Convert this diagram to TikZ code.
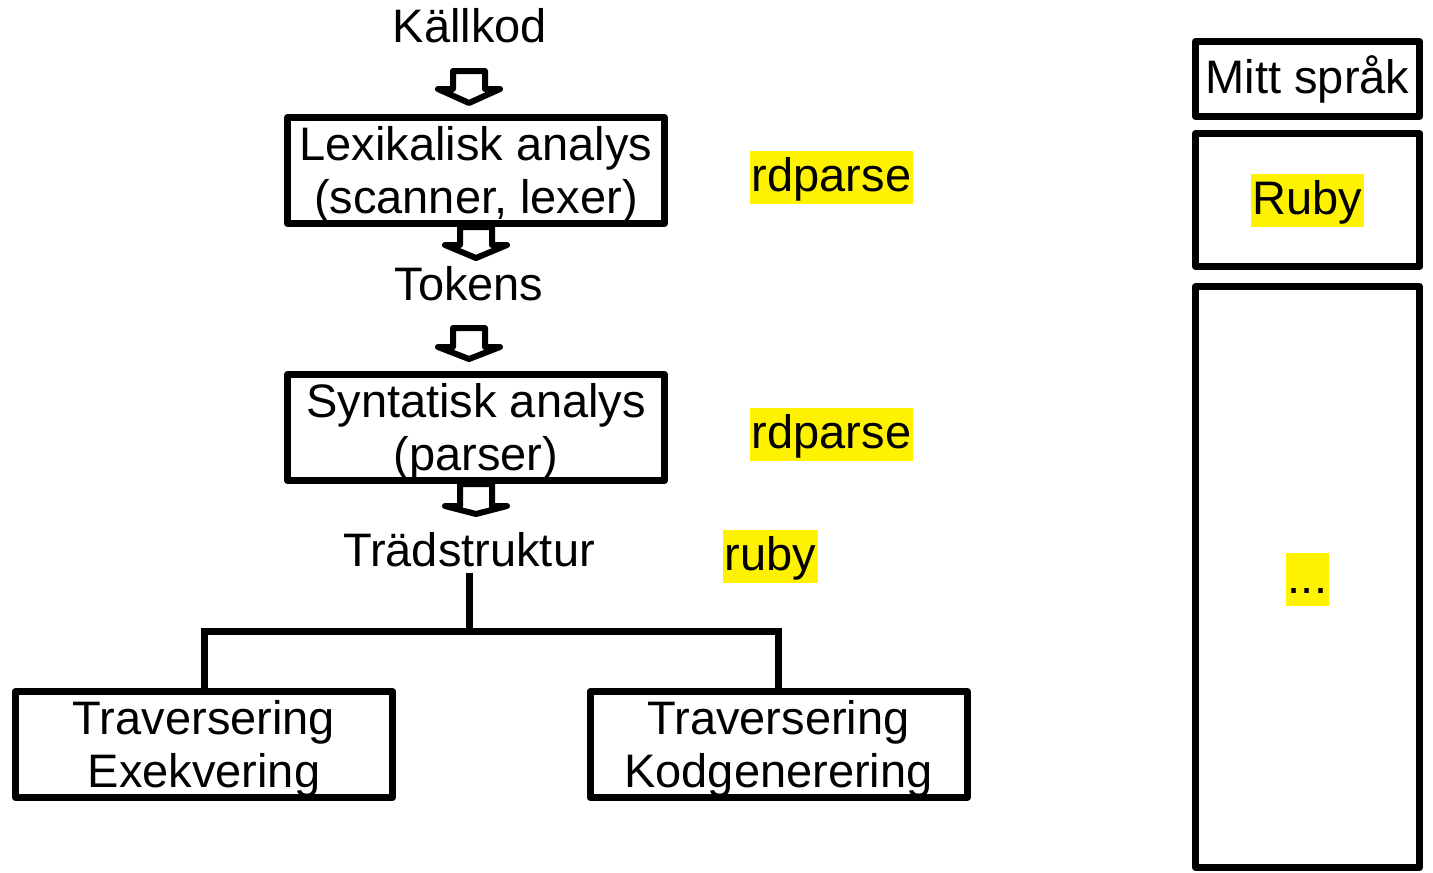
\documentclass[tikz,border=0pt]{standalone}
\usepackage{fontspec}
\setmainfont{Liberation Sans}
\usetikzlibrary{calc,backgrounds}
\newcommand\blockarrow[3]{%
  \draw[blk] ($#1+(-16,0)$) -- ++(32,0) -- ++(0,#2) -- ++(15,0) -- ($#1+(0,#2+#3)$) -- ($#1+(-31,#2)$) -- ++(15,0) -- cycle;}
\newcommand\topstrut{\rule{0pt}{42pt}}
\begin{document}
\begin{tikzpicture}[x=1pt,y=-1pt,
  every node/.style={inner sep=0pt, font=\fontsize{47}{53}\selectfont},
  box/.style={draw, line width=7pt, line join=round, align=center, minimum width=377pt, minimum height=106pt},
  sidebox/.style={draw, line width=7pt, line join=round, minimum width=224pt},
  hl/.style={fill=yellow, inner xsep=2pt, text height=41pt, text depth=12pt},
  blk/.style={draw, line width=6pt, line join=round, fill=white},
  tree/.style={line width=7pt}
]
\useasboundingbox (0,0) rectangle (1433,873);
\node[anchor=base] (src) at (470,42) {Källkod};
\node[box] (lex) at (476,170.5) {\topstrut Lexikalisk analys\\(scanner, lexer)};
\node[anchor=base] (tok) at (469,300) {Tokens};
\node[box] (syn) at (476,427.5) {\topstrut Syntatisk analys\\(parser)};
\node[anchor=base] (trd) at (469,566) {Trädstruktur};
\node[box] (exe) at (204,744.5) {\topstrut Traversering\\Exekvering};
\node[box] (gen) at (778.5,744.5) {\topstrut Traversering\\Kodgenerering};
\node[hl] (rd1) at (831.5,177) {rdparse};
\node[hl] (rd2) at (831.5,434) {rdparse};
\node[hl] (rb) at (770.5,556) {ruby};
\node[sidebox, minimum height=75pt] (lang) at (1307.5,79) {\rule{0pt}{37pt}Mitt språk};
\node[sidebox, minimum height=133pt] (impl) at (1307.5,200) {};
\node[hl] (Rb) at (1307.5,200) {Ruby};
\node[sidebox, minimum height=581pt] (more) at (1307.5,577) {};
\node[hl] (dots) at (1307.5,579) {...};
\coordinate (a1) at (469,71);
\coordinate (a3) at (469,328);
\coordinate (split) at (469,631);
\begin{scope}[on background layer]
\blockarrow{(a1)}{18}{14}
\blockarrow{(lex.south)}{18}{13}
\blockarrow{(a3)}{19}{12}
\blockarrow{(syn.south)}{22}{8}
\end{scope}
\draw[tree] ([yshift=-6pt]trd.south) -- (split);
\draw[tree] (exe.north) |- (split) -| (gen.north);
\end{tikzpicture}
\end{document}
